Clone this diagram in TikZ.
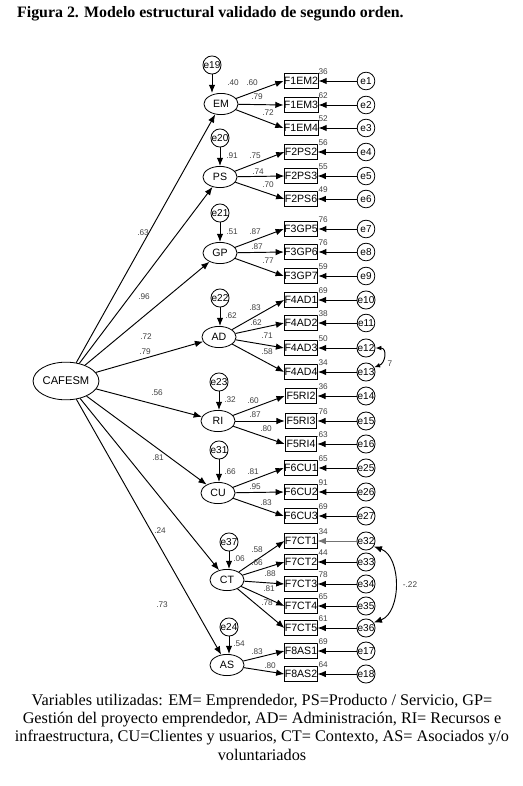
\documentclass[tikz,border=0pt]{standalone}
\usepackage{fontspec}
\setmainfont{Liberation Serif}
\setsansfont{Liberation Sans}
\usetikzlibrary{arrows.meta,shapes.geometric}
\tikzset{
  lat/.style={draw,ellipse,line width=0.7pt,minimum width=29pt,minimum height=18pt,inner sep=0pt,font=\sffamily\fontsize{9}{10}\selectfont},
  obs/.style={draw,rectangle,line width=0.7pt,minimum width=27pt,minimum height=12.8pt,inner sep=0pt,font=\sffamily\fontsize{9}{10}\selectfont},
  err/.style={draw,circle,line width=0.7pt,minimum size=15pt,inner sep=0pt,font=\sffamily\fontsize{8.5}{9}\selectfont},
  coef/.style={font=\sffamily\fontsize{7}{8}\selectfont,text=black!75,inner sep=0pt},
  ruta/.style={line width=0.8pt,-{Latex[length=7pt,width=5.5pt]}}
}
\begin{document}
\begin{tikzpicture}[x=0.85pt,y=-0.85pt]
\useasboundingbox (0,0) rectangle (523,786);
% ---- titulo ----
\node[anchor=west,font=\bfseries\fontsize{13.5}{15}\selectfont] (titulo) at (13,14) {Figura 2. Modelo estructural validado de segundo orden.};
% ---- factor de segundo orden ----
\node[lat,minimum width=55pt,minimum height=32pt,font=\sffamily\fontsize{9.5}{10}\selectfont] (CAFESM) at (66,381) {CAFESM};
% ---- factores de primer orden ----
\foreach \nm/\xx/\yy/\ee/\ex/\ey/\rr in {EM/221/104/e19/212/65/.40, PS/220/177/e20/220/138/.91,
  GP/220/253/e21/220/213/.51, AD/219/337/e22/220/298/.62, RI/218/421/e23/219/382/.32,
  CU/218/493/e31/219/450/.66, CT/227/580/e37/229/542/.06, AS/227/665/e24/229/627/.54}{
  \node[lat] (\nm) at (\xx,\yy) {\nm};
  \node[err] (\ee) at (\ex,\ey) {\ee};
  \draw[ruta] (\ee) -- (\ee |- \nm.north);
  \node[coef] at (\xx+12,\yy-21) {\rr};
}
% ---- indicadores y errores ----
\foreach \nm/\yy/\rr/\ee/\tono in {F1EM2/81/.36/e1/black, F1EM3/105/.62/e2/black, F1EM4/128/.52/e3/black,
  F2PS2/152/.56/e4/black, F2PS3/176/.55/e5/black, F2PS6/199/.49/e6/black,
  F3GP5/229/.76/e7/black, F3GP6/252/.76/e8/black, F3GP7/276/.59/e9/black,
  F4AD1/300/.69/e10/black, F4AD2/323/.38/e11/black, F4AD3/348/.50/e12/black, F4AD4/372/.34/e13/black,
  F5RI2/396/.36/e14/black, F5RI3/421/.76/e15/black, F5RI4/444/.63/e16/black,
  F6CU1/468/.65/e25/black, F6CU2/492/.91/e26/black, F6CU3/516/.69/e27/black,
  F7CT1/541/.34/e32/black!55, F7CT2/562/.44/e33/black, F7CT3/584/.78/e34/black, F7CT4/606/.65/e35/black, F7CT5/628/.61/e36/black,
  F8AS1/651/.69/e17/black, F8AS2/674/.64/e18/black}{
  \node[obs] (\nm) at (301,\yy) {\nm};
  \node[err] (\ee) at (366,\yy) {\ee};
  \draw[ruta,draw=\tono] (\ee) -- (\nm);
  \node[coef] at (322,\yy-9) {\rr};
}
% ---- cargas de primer orden ----
\foreach \a/\b/\v/\lx/\ly in {EM/F1EM2/.60/252/83, EM/F1EM3/.79/257/97, EM/F1EM4/.72/268/113,
  PS/F2PS2/.75/255/156, PS/F2PS3/.74/258/172, PS/F2PS6/.70/268/185,
  GP/F3GP5/.87/255/232, GP/F3GP6/.87/257/247, GP/F3GP7/.77/268/261,
  AD/F4AD1/.83/255/308, AD/F4AD2/.62/256/323, AD/F4AD3/.71/267/336, AD/F4AD4/.58/267/352,
  RI/F5RI2/.60/253/401, RI/F5RI3/.87/255/415, RI/F5RI4/.80/266/429,
  CU/F6CU1/.81/253/472, CU/F6CU2/.95/255/487, CU/F6CU3/.83/266/503,
  CT/F7CT1/.58/257/550, CT/F7CT2/.66/257/563, CT/F7CT3/.88/270/574, CT/F7CT4/.81/269/589, CT/F7CT5/.78/267/603,
  AS/F8AS1/.83/257/652, AS/F8AS2/.80/270/666}{
  \draw[ruta] (\a) -- (\b.west);
  \node[coef] at (\lx,\ly) {\v};
}
% ---- cargas de segundo orden ----
\foreach \b/\v/\lx/\ly in {EM/.63/143/233, PS/.96/144/297, GP/.72/146/337, AD/.79/145/352,
  RI/.56/157/393, CU/.81/158/458, CT/.24/160/531, AS/.73/162/605}{
  \draw[ruta] (CAFESM) -- (\b);
  \node[coef] at (\lx,\ly) {\v};
}
% ---- covarianzas ----
\draw[line width=0.8pt,{Latex[length=5pt,width=4pt]}-{Latex[length=5pt,width=4pt]}] (e12.east) to[out=0,in=20,looseness=1.6] (e13.30);
\node[coef] at (390,364) {7};
\draw[line width=0.8pt,{Latex[length=7pt,width=5.5pt]}-{Latex[length=7pt,width=5.5pt]}] (e32.-35) to[out=-20,in=20] (e36.35);
\node[coef] (cov) at (410,585) {-.22};
% ---- nota ----
\node[align=center,font=\fontsize{13.8}{15.6}\selectfont] (nota) at (262,727) {Variables utilizadas: EM= Emprendedor, PS=Producto / Servicio, GP=\\
Gestión del proyecto emprendedor, AD= Administración, RI= Recursos e\\
infraestructura, CU=Clientes y usuarios, CT= Contexto, AS= Asociados y/o\\
voluntariados};
\end{tikzpicture}
\end{document}
